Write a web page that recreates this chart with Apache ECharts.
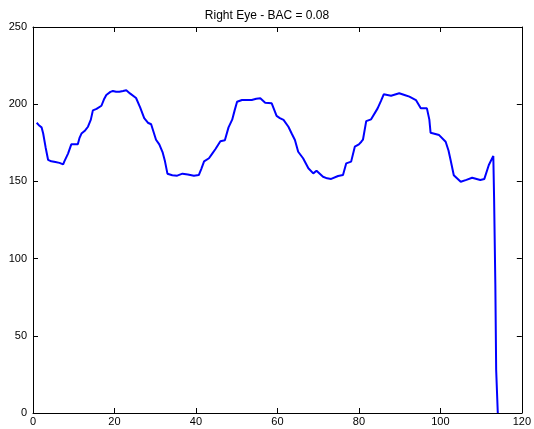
<!DOCTYPE html>
<html>
<head>
<meta charset="utf-8">
<script src="https://cdn.jsdelivr.net/npm/echarts@6/dist/echarts.min.js"></script>
<style>
  html, body { margin: 0; padding: 0; background: #fff; }
  #chart { width: 534px; height: 429px; }
</style>
</head>
<body>
<div id="chart"></div>
<script>
// 读图得到的数据（x 为样本位置，y 为数值）
const xValues = [
  0.9, 1.6, 2.1, 2.5, 3.1, 3.7, 4.5, 5.5, 6.5, 7.4, 7.7, 8.6, 9.4, 9.8, 11.0, 11.4, 11.9, 12.8, 13.5,
  14.2, 14.7, 15.6, 16.8, 17.4, 18.0, 19.0, 19.6, 20.4, 21.2, 22.1, 22.9, 23.8, 25.3, 26.3, 27.3,
  28.2, 29.0, 30.2, 31.0, 31.8, 32.4, 33.0, 34.2, 35.4, 36.7, 38.0, 39.5, 40.7, 41.3, 42.0, 43.2,
  44.0, 44.8, 46.0, 47.1, 48.0, 48.9, 49.5, 50.1, 51.3, 52.5, 53.7, 54.8, 55.8, 57.0, 58.6, 59.8,
  60.6, 61.5, 62.7, 63.5, 64.3, 65.1, 66.3, 67.6, 68.8, 69.6, 71.2, 72.2, 73.2, 74.9, 76.1, 76.9,
  78.1, 79.0, 80.0, 80.6, 81.0, 81.8, 83.0, 84.6, 85.4, 86.1, 87.9, 89.9, 91.2, 92.4, 94.0, 95.2,
  96.7, 97.3, 97.6, 99.7, 101.3, 102.0, 102.5, 103.3, 105.0, 106.4, 107.8, 109.8, 110.8, 111.9,
  113.0, 113.2, 113.5, 113.7, 114.1
]
const yValues = [
  188, 186, 185, 181, 172, 164, 163, 162.5, 162, 161, 163, 168, 174, 174, 174, 178, 181, 183, 185.4,
  190, 196, 197, 199, 203, 206, 208, 208.5, 208, 208, 208.5, 209, 207, 204, 198, 191,
  188, 187, 177, 174, 169, 163, 155, 154, 153.7, 155, 154.5, 153.7, 154.1, 158, 163, 165,
  168, 171, 176, 176.6, 185, 190, 196, 201.6, 202.7, 202.7, 202.7, 203.5, 203.8, 201, 200.6, 192.4,
  191, 189.8, 185.4, 181, 176.8, 169.2, 165, 158.5, 155.2, 156.9, 153, 152, 151.6, 153.5, 154.1, 161.7,
  162.8, 172.5, 174, 175.7, 177, 189, 190.2, 197.3, 202, 206.4, 205.5, 207.1, 206, 204.9, 202.7, 197.3,
  197.3, 190, 181.5, 180, 175.7, 170, 164, 154, 149.8, 151, 152.4, 150.9, 151.6, 160.6,
  166.5, 138, 83, 28, 0
]
const xTicks = { min: 0, max: 120, interval: 20 }
const yTicks = { min: 0, max: 250, interval: 50 }

const points = xValues.map((x, i) => [x, yValues[i]])

const chart = echarts.init(document.getElementById('chart'))

const axisFont = {
  color: '#000',
  fontSize: 11,
  fontFamily: 'Liberation Sans, Arial, sans-serif'
}
const lineStyle = { color: '#000', width: 1 }

const option = {
  backgroundColor: '#ffffff',
  animation: false,
  title: {
    text: 'Right Eye - BAC = 0.08',
    left: 'center',
    top: 5,
    textStyle: {
      color: '#000',
      fontSize: 12,
      fontWeight: 'normal',
      fontFamily: 'Liberation Sans, Arial, sans-serif'
    }
  },
  grid: {
    left: 33,
    right: 9,
    top: 27,
    bottom: 16
  },
  xAxis: [
    {
      type: 'value',
      min: xTicks.min,
      max: xTicks.max,
      interval: xTicks.interval,
      position: 'bottom',
      axisLine: { show: true, onZero: false, lineStyle: lineStyle },
      axisTick: { show: true, inside: true, length: 5, lineStyle: lineStyle },
      axisLabel: Object.assign({ margin: 3 }, axisFont),
      splitLine: { show: false }
    },
    {
      type: 'value',
      min: xTicks.min,
      max: xTicks.max,
      interval: xTicks.interval,
      position: 'top',
      axisLine: { show: true, onZero: false, lineStyle: lineStyle },
      axisTick: { show: true, inside: true, length: 5, lineStyle: lineStyle },
      axisLabel: { show: false },
      splitLine: { show: false }
    }
  ],
  yAxis: [
    {
      type: 'value',
      min: yTicks.min,
      max: yTicks.max,
      interval: yTicks.interval,
      position: 'left',
      axisLine: { show: true, onZero: false, lineStyle: lineStyle },
      axisTick: { show: true, inside: true, length: 5, lineStyle: lineStyle },
      axisLabel: Object.assign({ margin: 6 }, axisFont),
      splitLine: { show: false }
    },
    {
      type: 'value',
      min: yTicks.min,
      max: yTicks.max,
      interval: yTicks.interval,
      position: 'right',
      axisLine: { show: true, onZero: false, lineStyle: lineStyle },
      axisTick: { show: true, inside: true, length: 5, lineStyle: lineStyle },
      axisLabel: { show: false },
      splitLine: { show: false }
    }
  ],
  series: [
    {
      type: 'line',
      xAxisIndex: 0,
      yAxisIndex: 0,
      data: points,
      showSymbol: false,
      clip: true,
      lineStyle: { color: '#0000ff', width: 2 },
      itemStyle: { color: '#0000ff' }
    }
  ]
}

chart.setOption(option)
</script>
</body>
</html>
